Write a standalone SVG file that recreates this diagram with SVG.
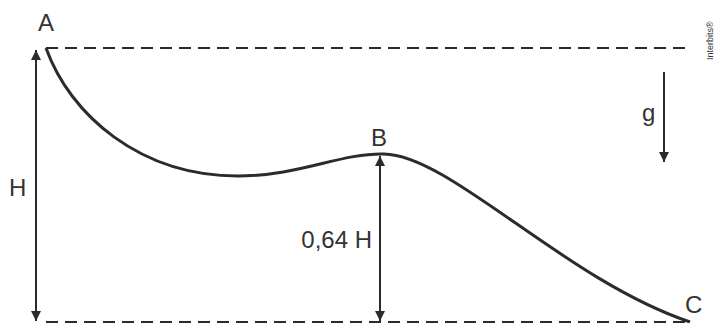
<svg xmlns="http://www.w3.org/2000/svg" width="716" height="323" viewBox="0 0 716 323">
<defs>
<marker id="ah" viewBox="0 0 10 10" refX="10" refY="5" markerWidth="10" markerHeight="10" markerUnits="userSpaceOnUse" orient="auto-start-reverse">
<path d="M0,0 L10,5 L0,10 z" fill="#2b2b2b"/>
</marker>
<style>
.lbl{font-family:"Liberation Sans",Arial,sans-serif;font-size:24px;fill:#333}
.dash{stroke:#2b2b2b;stroke-width:2;stroke-dasharray:12,7;fill:none}
.arr{stroke:#2b2b2b;stroke-width:2;fill:none}
</style>
</defs>
<rect width="716" height="323" fill="#fff"/>
<g id="connectors">
<line class="dash" x1="46" y1="48" x2="692" y2="48"/>
<line class="dash" x1="46" y1="322" x2="692" y2="322"/>
<line class="arr" x1="36" y1="50" x2="36" y2="321" marker-start="url(#ah)" marker-end="url(#ah)"/>
<line class="arr" x1="380" y1="156" x2="380" y2="321" marker-start="url(#ah)" marker-end="url(#ah)"/>
<line class="arr" x1="664" y1="72" x2="664" y2="162" marker-end="url(#ah)"/>
<path d="M46,48 C70,115 140,176 238,176 C300,176 340,153 384,154 C450,155 565,280 690,322" fill="none" stroke="#2b2b2b" stroke-width="3"/>
</g>
<g id="A"><text class="lbl" x="38" y="31">A</text></g>
<g id="B"><text class="lbl" x="371" y="146">B</text></g>
<g id="C"><text class="lbl" x="685" y="313">C</text></g>
<g id="H"><text class="lbl" x="9" y="196">H</text></g>
<g id="h064"><text class="lbl" x="372" y="248" text-anchor="end">0,64 H</text></g>
<g id="g"><text class="lbl" x="642" y="121">g</text></g>
<g id="logo"><text font-family="Liberation Sans,Arial,sans-serif" font-size="9" fill="#333" transform="translate(713,60) rotate(-90)">Interbits®</text></g>
</svg>
